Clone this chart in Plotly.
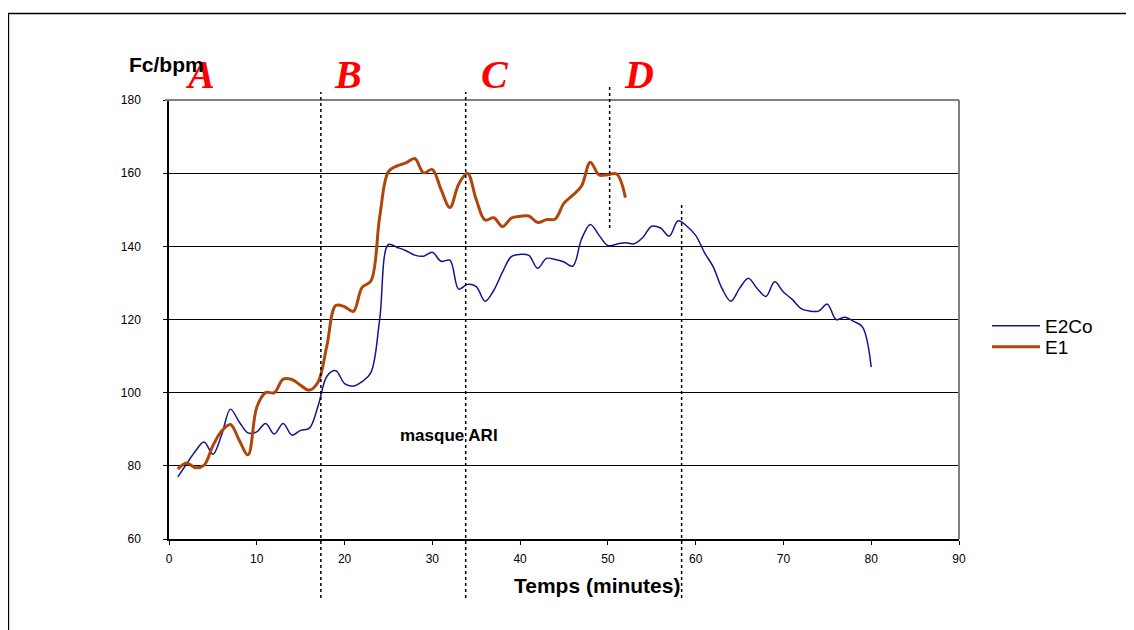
import plotly.graph_objects as go

# ---- data ----
minutes_e2co = list(range(1, 81))
hr_e2co = [77.0, 80.5, 84.0, 86.5, 83.2, 88.5, 95.5, 92.0, 89.0, 89.3,
           91.6, 88.7, 91.6, 88.4, 89.7, 90.3, 96.5, 104.5, 106.0, 102.5,
           101.8, 103.0, 105.5, 120.0, 140.5, 139.7, 138.8, 137.6, 137.3, 138.4,
           135.9, 136.2, 128.3, 129.6, 129.0, 125.0, 128.0, 133.0, 137.2, 137.8,
           137.5, 134.0, 136.7, 136.4, 135.7, 134.6, 142.0, 146.0, 143.0, 140.2,
           140.6, 141.0, 140.7, 142.5, 145.5, 145.0, 142.8, 147.0, 145.5, 143.0,
           138.3, 134.4, 128.5, 125.0, 128.5, 131.3, 128.5, 126.3, 130.3, 127.5,
           125.5, 123.0, 122.3, 122.3, 124.2, 120.0, 120.6, 119.5, 118.0, 107.0]

minutes_e1 = list(range(1, 53))
hr_e1 = [79.1, 80.8, 79.5, 80.2, 85.5, 89.5, 91.3, 87.0, 83.0, 96.0,
         100.0, 100.0, 103.7, 103.6, 102.0, 100.7, 103.0, 113.0, 123.8, 123.5,
         122.2, 128.8, 130.5, 148.0, 160.4, 162.0, 162.8, 164.0, 160.1, 161.0,
         155.5, 150.6, 157.0, 160.0, 152.8, 147.2, 147.8, 145.4, 147.7, 148.2,
         148.3, 146.5, 147.3, 147.5, 151.8, 154.0, 156.5, 163.0, 159.5, 159.6,
         159.8, 153.3]

series_names = ["E2Co", "E1"]
x_ticks = [0, 10, 20, 30, 40, 50, 60, 70, 80, 90]
y_ticks = [60, 80, 100, 120, 140, 160, 180]

phase_letters = ["A", "B", "C", "D"]
phase_letter_x = [3.5, 20.4, 37.1, 53.5]
phase_bounds_x = [17.3, 33.8, 50.2, 58.4]

# ---- figure geometry (page pixels; the page body adds an 8px offset) ----
OFF = 8
W, H = 1126, 622
PL, PR, PT, PB = 169, 959, 100, 539        # plot area in page pixels
L, T = PL - OFF, PT - OFF
R, B = W - (PR - OFF), H - (PB - OFF)
pw, ph = PR - PL, PB - PT


def px_x(p):
    return (p - PL) / pw


def px_y(p):
    return (PB - p) / ph


fig = go.Figure()
fig.add_trace(go.Scatter(x=minutes_e2co, y=hr_e2co, name=series_names[0], mode="lines",
                         legend="legend",
                         line=dict(color="#15158a", width=1.5, shape="spline", smoothing=1.0)))
fig.add_trace(go.Scatter(x=minutes_e1, y=hr_e1, name=series_names[1], mode="lines",
                         legend="legend2",
                         line=dict(color="#b0460c", width=3, shape="spline", smoothing=1.0)))

shapes = []
# outer frame
shapes.append(dict(type="rect", xref="paper", yref="paper",
                   x0=px_x(8.5), x1=px_x(1150), y0=px_y(650), y1=px_y(13.5),
                   line=dict(color="black", width=1.3), layer="below"))
# gray top & right border of the plot area
shapes.append(dict(type="line", xref="paper", yref="paper", x0=px_x(165), x1=1, y0=1, y1=1,
                   line=dict(color="#808080", width=2), layer="above"))
shapes.append(dict(type="line", xref="paper", yref="paper", x0=1, x1=1, y0=0, y1=1,
                   line=dict(color="#808080", width=2), layer="above"))
# dotted phase boundaries
dot_spans = [(92, 598), (92, 598), (85, 228), (205, 598)]
for xb, (ytop, ybot) in zip(phase_bounds_x, dot_spans):
    shapes.append(dict(type="line", xref="x", yref="paper", x0=xb, x1=xb,
                       y0=px_y(ybot), y1=px_y(ytop),
                       line=dict(color="black", width=1.5, dash="dot"), layer="above"))

annotations = []
for lab, lx in zip(phase_letters, phase_letter_x):
    annotations.append(dict(x=lx, y=px_y(74), xref="x", yref="paper", text=lab, showarrow=False,
                            font=dict(family="Liberation Serif", size=40, color="#ff0000",
                                      weight="bold", style="italic"),
                            xanchor="center", yanchor="middle"))
annotations.append(dict(x=px_x(166), y=px_y(65), xref="paper", yref="paper", text="Fc/bpm",
                        showarrow=False, xanchor="center", yanchor="middle",
                        font=dict(family="Liberation Sans", size=21, color="black", weight="bold")))
annotations.append(dict(x=31.9, y=88.4, xref="x", yref="y", text="masque ARI",
                        showarrow=False, xanchor="center", yanchor="middle",
                        font=dict(family="Liberation Sans", size=17, color="black", weight="bold")))
annotations.append(dict(x=px_x(597), y=px_y(585), xref="paper", yref="paper", text="Temps (minutes)",
                        showarrow=False, xanchor="center", yanchor="middle",
                        font=dict(family="Liberation Sans", size=21, color="black", weight="bold")))

legend_font = dict(family="Liberation Sans", size=19, color="black")
fig.update_layout(
    width=W, height=H,
    margin=dict(l=L, r=R, t=T, b=B),
    paper_bgcolor="white", plot_bgcolor="white",
    shapes=shapes, annotations=annotations,
    showlegend=True,
    legend=dict(x=px_x(987), y=px_y(307), xanchor="left", yanchor="top",
                font=legend_font, itemwidth=48, bgcolor="rgba(0,0,0,0)"),
    legend2=dict(x=px_x(987), y=px_y(328), xanchor="left", yanchor="top",
                 font=legend_font, itemwidth=48, bgcolor="rgba(0,0,0,0)"),
    xaxis=dict(range=[0, 90], tickvals=x_ticks, ticktext=[str(v) for v in x_ticks],
               showgrid=False, zeroline=False, showline=True, linecolor="black", linewidth=1.5,
               ticks="outside", ticklen=4, tickcolor="black", tickwidth=1,
               tickfont=dict(family="Liberation Sans", size=12, color="black"),
               ticklabelstandoff=4),
    yaxis=dict(range=[60, 180], tickvals=y_ticks, ticktext=[str(v) for v in y_ticks],
               showgrid=True, gridcolor="black", gridwidth=1, zeroline=False,
               showline=True, linecolor="black", linewidth=1.5,
               ticks="outside", ticklen=4, tickcolor="black", tickwidth=1,
               tickfont=dict(family="Liberation Sans", size=12, color="black"),
               ticklabelstandoff=20),
)

fig.write_html("out.html")
